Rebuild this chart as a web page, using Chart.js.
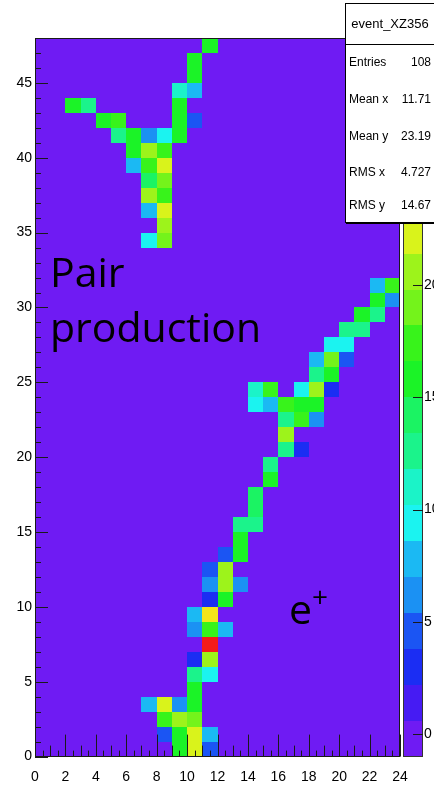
<!DOCTYPE html>
<html>
<head>
<meta charset="utf-8">
<title>event_XZ356</title>
<script src="https://cdn.jsdelivr.net/npm/chart.js@4/dist/chart.umd.min.js"></script>
<style>
  html, body { margin: 0; padding: 0; background: #fff; }
  #wrap { position: relative; width: 434px; height: 789px; overflow: hidden; }
  #c { position: absolute; left: 0; top: 0; }
  .note { position: absolute; font-family: "Open Sans", sans-serif; font-size: 41px; line-height: 55px; color: #000; white-space: nowrap; }
  .note .sup { display: inline-block; font-size: 28px; line-height: 28px; vertical-align: 17px; }
  #stats { position: absolute; left: 345px; top: 3px; width: 92px; height: 218px; background: #fff;
           border: 1px solid #000; box-shadow: 1px 1px 0 #000;
           font-family: "Liberation Sans", Arial, sans-serif; font-size: 12px; color: #000; }
  #stats .title { position: absolute; left: 0; width: 88px; text-align: center; font-size: 13px; }
  #stats .sep { position: absolute; left: 0; width: 100%; height: 0; border-top: 1px solid #000; }
  #stats .lab { position: absolute; left: 3px; }
  #stats .val { position: absolute; right: 7px; text-align: right; }
</style>
</head>
<body>
<div id="wrap">
  <canvas id="c" width="434" height="789"></canvas>
  <div class="note" style="left:50px; top:244px;">Pair<br>production</div>
  <div class="note" style="left:289px; top:581px;">e<span class="sup">+</span></div>
  <div id="stats"></div>
</div>
<script>
// Histogram binning (unit bins) and colour-axis range
const xBins = 24;
const yBins = 48;
const zMin = -1;
const zMax = 31;

// Filled bins of event_XZ356: column index, row index, content
const binX = [
  11, 10, 10, 9, 10, 2, 3, 9, 4, 5, 9, 10, 5, 6, 7, 8, 9, 6, 7, 8, 6, 7, 8, 7, 8, 7, 8, 7, 8, 8, 7, 8,
  22, 23, 22, 23, 21, 22, 20, 21, 19, 20, 18, 19, 20, 18, 19, 14, 15, 17, 18, 19, 14, 15, 16, 17, 18,
  16, 17, 18, 16, 16, 17, 15, 15,
  14, 14, 13, 14, 13, 12, 13, 11, 12, 11, 12, 13, 11, 12, 10, 11, 10, 11, 12, 11, 10, 11, 10, 11, 10,
  7, 8, 9, 10, 8, 9, 10, 8, 9, 10, 11, 9, 10, 11
];
const binY = [
  47, 46, 45, 44, 44, 43, 43, 43, 42, 42, 42, 42, 41, 41, 41, 41, 41, 40, 40, 40, 39, 39, 39, 38, 38, 37, 37, 36, 36, 35, 34, 34,
  31, 31, 30, 30, 29, 29, 28, 28, 27, 27, 26, 26, 26, 25, 25, 24, 24, 24, 24, 24, 23, 23, 23, 23, 23,
  22, 22, 22, 21, 20, 20, 19, 18,
  17, 16, 15, 15, 14, 13, 13, 12, 12, 11, 11, 11, 10, 10, 9, 9, 8, 8, 8, 7, 6, 6, 5, 5, 4,
  3, 3, 3, 3, 2, 2, 2, 1, 1, 1, 1, 0, 0, 0
];
const binZ = [
  16, 16, 16, 11, 8, 16, 13, 16, 16, 17, 16, 5, 13, 16, 6, 9, 16, 16, 20, 17, 8, 18, 22, 14, 19, 21, 17, 8, 22, 20, 9, 19,
  8, 17, 16, 6, 16, 13, 13, 13, 10, 10, 8, 19, 5, 13, 16, 11, 17, 9, 21, 3, 9, 8, 17, 16, 16,
  13, 17, 6, 20, 13, 3, 13, 16,
  14, 14, 13, 13, 16, 5, 16, 5, 20, 6, 20, 6, 3, 16, 8, 24, 6, 17, 8, 30, 3, 20, 13, 9, 16,
  8, 22, 6, 16, 17, 21, 19, 4, 16, 22, 8, 16, 22, 5
];

// Axis tick values
const xTicks = [0, 2, 4, 6, 8, 10, 12, 14, 16, 18, 20, 22, 24];
const yTicks = [0, 5, 10, 15, 20, 25, 30, 35, 40, 45];
const zTicks = [0, 5, 10, 15, 20, 25, 30];

// Statistics box
const statsTitle = 'event_XZ356';
const statsLabels = ['Entries', 'Mean x', 'Mean y', 'RMS x', 'RMS y'];
const statsValues = ['108', '11.71', '23.19', '4.727', '14.67'];

// ---- palette: 20 contour levels over a 50-colour rainbow (violet -> red)
const NCONT = 20, NPAL = 50;
function bandColor(k) {
  const idx = Math.floor((k + 0.99) * NPAL / NCONT);
  const hue = 280 - (idx + 1) * 280 / NPAL;
  return 'hsl(' + hue.toFixed(1) + ', 90%, 53%)';
}
function valueColor(v) {
  let k = Math.floor((v - zMin) / (zMax - zMin) * NCONT);
  k = Math.max(0, Math.min(NCONT - 1, k));
  return bandColor(k);
}

// full bin grid (empty bins hold 0)
const content = {};
binX.forEach((bx, i) => { content[bx + ',' + binY[i]] = binZ[i]; });
const cells = [];
for (let ix = 0; ix < xBins; ix++) {
  for (let iy = 0; iy < yBins; iy++) {
    cells.push({ x: ix + 0.5, y: iy + 0.5, v: content[ix + ',' + iy] || 0 });
  }
}

// draws every bin as a rectangle through the x/y scales
const cellPlugin = {
  id: 'cells',
  beforeDatasetsDraw(chart) {
    const { ctx, chartArea: a, scales: { x, y } } = chart;
    ctx.save();
    ctx.beginPath();
    ctx.rect(a.left, a.top, a.right - a.left, a.bottom - a.top);
    ctx.clip();
    chart.data.datasets[0].data.forEach(c => {
      const x0 = Math.round(x.getPixelForValue(c.x - 0.5));
      const x1 = Math.round(x.getPixelForValue(c.x + 0.5));
      const y0 = Math.round(y.getPixelForValue(c.y + 0.5));
      const y1 = Math.round(y.getPixelForValue(c.y - 0.5));
      ctx.fillStyle = valueColor(c.v);
      ctx.fillRect(x0, y0, x1 - x0, y1 - y0);
    });
    ctx.restore();
  }
};

// frame, inward tick marks and the colour palette bar
const framePlugin = {
  id: 'frame',
  afterDatasetsDraw(chart) {
    const { ctx, chartArea: a, scales: { x, y, z } } = chart;
    ctx.save();
    ctx.strokeStyle = '#1a1a1a';
    ctx.lineWidth = 1;
    const line = (x0, y0, x1, y1) => { ctx.beginPath(); ctx.moveTo(x0, y0); ctx.lineTo(x1, y1); ctx.stroke(); };

    for (let v = 0; v <= xBins + 1e-9; v += 0.5) {
      const px = Math.round(x.getPixelForValue(v)) + 0.5;
      const len = (v % 2 === 0) ? 22 : (v % 1 === 0 ? 11 : 6);
      line(px, a.bottom, px, a.bottom - len);
    }
    for (let v = 0; v <= yBins; v += 1) {
      const py = Math.round(y.getPixelForValue(v)) + 0.5;
      const len = (v % 5 === 0) ? 13 : 6;
      line(a.left, py, a.left + len, py);
    }
    ctx.strokeRect(Math.round(a.left) + 0.5, Math.round(a.top) + 0.5,
                   Math.round(a.right - a.left) - 1, Math.round(a.bottom - a.top) - 1);

    // palette
    const bx0 = Math.round(a.right) + 3, bx1 = Math.round(a.right) + 23;
    const dz = (zMax - zMin) / NCONT;
    for (let k = 0; k < NCONT; k++) {
      const yTop = Math.round(z.getPixelForValue(zMin + (k + 1) * dz));
      const yBot = Math.round(z.getPixelForValue(zMin + k * dz));
      ctx.fillStyle = bandColor(k);
      ctx.fillRect(bx0, yTop, bx1 - bx0, yBot - yTop);
    }
    const zt = Math.round(z.getPixelForValue(zMax)), zb = Math.round(z.getPixelForValue(zMin));
    ctx.strokeStyle = '#333';
    ctx.strokeRect(bx0 + 0.5, zt + 0.5, bx1 - bx0 - 1, zb - zt - 1);
    ctx.strokeStyle = '#1a1a1a';
    zTicks.forEach(v => {
      const py = Math.round(z.getPixelForValue(v)) + 0.5;
      line(bx1 - 10, py, bx1, py);
    });
    ctx.restore();
  }
};

Chart.defaults.font.family = '"Liberation Sans", Arial, sans-serif';
Chart.defaults.font.size = 14;
Chart.defaults.color = '#000';

const noGrid = { display: false, drawTicks: false };

new Chart(document.getElementById('c'), {
  type: 'scatter',
  data: {
    datasets: [{ label: statsTitle, data: cells, pointRadius: 0, pointHoverRadius: 0 }]
  },
  options: {
    responsive: false,
    animation: false,
    events: [],
    layout: { padding: { top: 38, left: 0, right: 0, bottom: 0 } },
    plugins: { legend: { display: false }, tooltip: { enabled: false } },
    scales: {
      x: {
        type: 'linear', position: 'bottom', min: 0, max: xBins,
        grid: noGrid, border: { display: false },
        ticks: { padding: 12, maxRotation: 0, autoSkip: false },
        afterBuildTicks: s => { s.ticks = xTicks.map(v => ({ value: v })); },
        afterFit: s => { s.height = 31; }
      },
      y: {
        type: 'linear', position: 'left', min: 0, max: yBins,
        grid: noGrid, border: { display: false },
        ticks: { padding: 3, autoSkip: false },
        afterBuildTicks: s => { s.ticks = yTicks.map(v => ({ value: v })); },
        afterFit: s => { s.width = 35; }
      },
      z: {
        type: 'linear', position: 'right', min: zMin, max: zMax,
        grid: noGrid, border: { display: false },
        ticks: { padding: 24, autoSkip: false },
        afterBuildTicks: s => { s.ticks = zTicks.map(v => ({ value: v })); },
        afterFit: s => { s.width = 34; }
      }
    }
  },
  plugins: [cellPlugin, framePlugin]
});

// statistics box
const stats = document.getElementById('stats');
const rowTops = [51, 88, 125, 161, 194];
stats.innerHTML = '<div class="title" style="top:12px">' + statsTitle + '</div>' +
  '<div class="sep" style="top:40px"></div>' +
  statsLabels.map((l, i) =>
    '<div class="lab" style="top:' + rowTops[i] + 'px">' + l + '</div>' +
    '<div class="val" style="top:' + rowTops[i] + 'px">' + statsValues[i] + '</div>').join('');
</script>
</body>
</html>
